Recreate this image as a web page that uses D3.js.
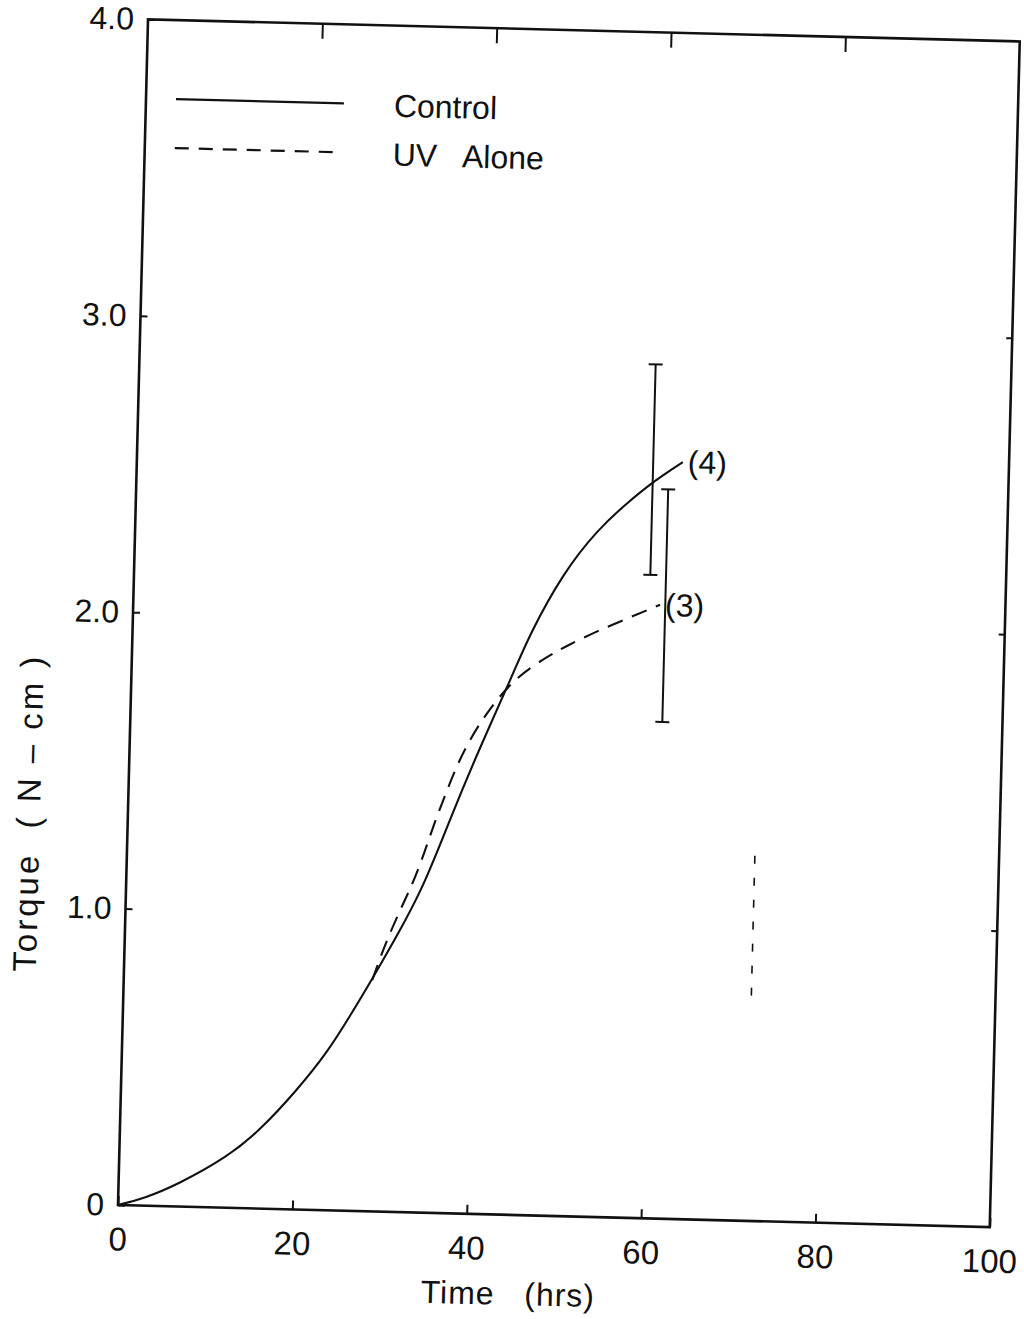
<!DOCTYPE html>
<html><head><meta charset="utf-8">
<script src="https://cdn.jsdelivr.net/npm/d3@7/dist/d3.min.js"></script>
<style>
body{margin:0;background:#fff}
svg{display:block}
text{font-family:'Liberation Sans',Arial,sans-serif;fill:#111;white-space:pre}
</style>
</head><body>
<svg id="c" width="1024" height="1319"></svg>
<script>
// ---- data ----
const seriesNames = ["Control", "UV   Alone"];
const controlTime   = [0, 3.0, 6.7, 12.4, 16.1, 20.2, 23.5, 26.0, 28.6, 31.0, 34.1, 36.9, 39.9, 43.8, 45.6, 49.2, 53.0, 56.3, 59.5, 62.6];
const controlTorque = [0, 0.025, 0.073, 0.171, 0.265, 0.403, 0.53, 0.654, 0.79, 0.92, 1.098, 1.326, 1.555, 1.828, 1.963, 2.169, 2.317, 2.41, 2.49, 2.553];
const uvTime   = [28.5, 29.6, 31.2, 32.8, 34.1, 35.1, 36.2, 37.3, 38.7, 40.8, 43.9, 47.6, 49.9, 53.2, 57.0, 60.4];
const uvTorque = [0.78, 0.88, 1.0, 1.104, 1.213, 1.31, 1.40, 1.49, 1.585, 1.69, 1.81, 1.885, 1.925, 1.975, 2.025, 2.07];
const endLabels = ["(4)", "(3)"];
const errTime = [59.2, 61.0];
const errLow  = [2.17, 1.675];
const errHigh = [2.88, 2.46];
const strayTime = [72, 72];
const strayTorque = [0.76, 1.27];
const xTicks = [0, 20, 40, 60, 80, 100];
const xTickLabels = ["0", "20", "40", "60", "80", "100"];
const yTicks = [0, 1, 2, 3, 4];
const yTickLabels = ["0", "1.0", "2.0", "3.0", "4.0"];
const xTitle = "Time   (hrs)";
const yTitle = "Torque  ( N – cm )";

// ---- layout ----
const W = 872, H = 1186;
const svg = d3.select("#c");
const g = svg.append("g").attr("transform", "translate(118,1205) rotate(1.45)");
const x = d3.scaleLinear().domain([0, 100]).range([0, W]);
const y = d3.scaleLinear().domain([0, 4]).range([0, -H]);
const ink = "#111";

// frame
g.append("rect").attr("x", 0).attr("y", -H).attr("width", W).attr("height", H)
  .attr("fill", "none").attr("stroke", ink).attr("stroke-width", 2.6);

function styleAxis(sel, fs) {
  sel.select(".domain").remove();
  sel.selectAll(".tick line").attr("stroke", ink).attr("stroke-width", 2);
  sel.selectAll(".tick text").attr("fill", ink).style("font-size", fs + "px").attr("font-family", null);
}
// bottom
g.append("g").call(d3.axisBottom(x).tickValues(xTicks).tickFormat((d, i) => xTickLabels[i]).tickSize(-9).tickPadding(22))
  .call(s => styleAxis(s, 33));
// left
g.append("g").call(d3.axisLeft(y).tickValues(yTicks).tickFormat((d, i) => yTickLabels[i]).tickSize(-7).tickPadding(14))
  .call(s => styleAxis(s, 32));
// top
g.append("g").attr("transform", `translate(0,${-H})`)
  .call(d3.axisTop(x).tickValues(xTicks.slice(1, -1)).tickFormat("").tickSize(-15))
  .call(s => styleAxis(s, 10));
// right
g.append("g").attr("transform", `translate(${W},0)`)
  .call(d3.axisRight(y).tickValues(yTicks.slice(1, -1)).tickFormat("").tickSize(-6))
  .call(s => styleAxis(s, 10));

// curves
const line = d3.line().x(d => x(d[0])).y(d => y(d[1])).curve(d3.curveBasis);
const control = controlTime.map((t, i) => [t, controlTorque[i]]);
const uv = uvTime.map((t, i) => [t, uvTorque[i]]);
g.append("path").attr("d", line(control)).attr("fill", "none").attr("stroke", ink).attr("stroke-width", 2.1);
g.append("path").attr("d", line(uv)).attr("fill", "none").attr("stroke", ink).attr("stroke-width", 2.1)
  .attr("stroke-dasharray", "16,10");

// error bars
errTime.forEach((t, i) => {
  const eb = g.append("g").attr("stroke", ink).attr("stroke-width", 2);
  eb.append("line").attr("x1", x(t)).attr("x2", x(t)).attr("y1", y(errLow[i])).attr("y2", y(errHigh[i]));
  [errLow[i], errHigh[i]].forEach(v => eb.append("line")
    .attr("x1", x(t) - 7).attr("x2", x(t) + 7).attr("y1", y(v)).attr("y2", y(v)));
});

// end labels
const ends = [control[control.length - 1], uv[uv.length - 1]];
ends.forEach((p, i) => {
  g.append("text").attr("x", x(p[0]) + 5).attr("y", y(p[1]) + 11)
    .style("font-size", "32px").text(endLabels[i]);
});

// stray dashed mark
g.append("line").attr("x1", x(strayTime[0])).attr("x2", x(strayTime[1]))
  .attr("y1", y(strayTorque[0])).attr("y2", y(strayTorque[1]))
  .attr("stroke", ink).attr("stroke-width", 1.6).attr("stroke-dasharray", "8,14");

// legend
const legendY = [-1107, -1058];
seriesNames.forEach((name, i) => {
  g.append("line").attr("x1", 30).attr("x2", 198).attr("y1", legendY[i]).attr("y2", legendY[i])
    .attr("stroke", ink).attr("stroke-width", 2.2).attr("stroke-dasharray", i ? "14,10" : null);
  g.append("text").attr("x", 248).attr("y", legendY[i] + 12).style("font-size", "32px").text(name);
});

// axis titles
g.append("text").attr("x", 392).attr("y", 90).attr("text-anchor", "middle")
  .style("font-size", "32px").style("letter-spacing", "1px").text(xTitle);
g.append("text").attr("transform", "translate(-88,-390) rotate(-90)").attr("text-anchor", "middle")
  .style("font-size", "33px").style("letter-spacing", "3px").text(yTitle);
</script>
</body></html>
